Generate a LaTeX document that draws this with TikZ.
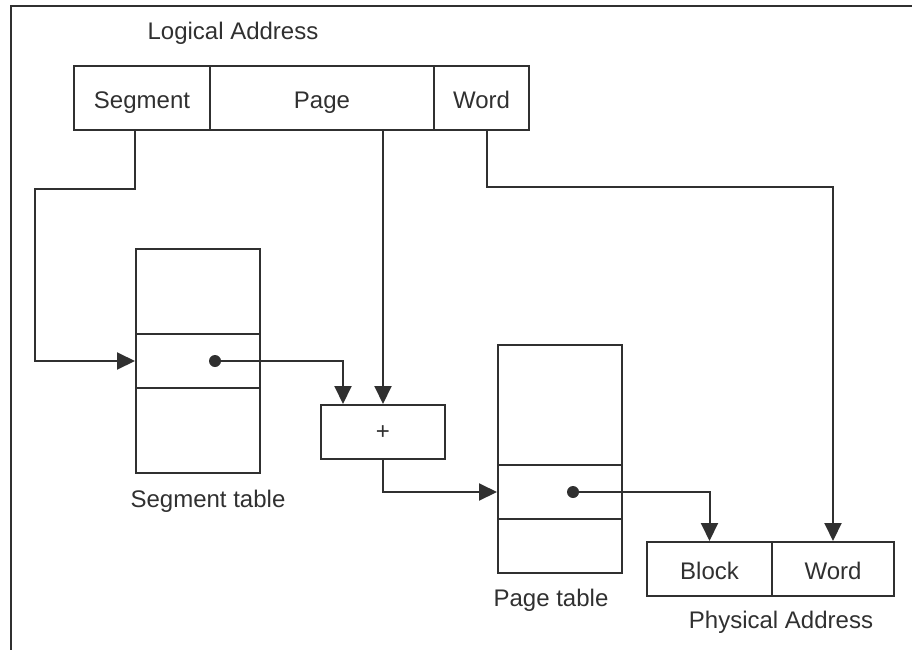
\documentclass[tikz,border=0pt]{standalone}
\usepackage{fontspec}
\setmainfont{Liberation Sans}
\usetikzlibrary{arrows.meta}
\definecolor{ink}{HTML}{303030}
\tikzset{
  cell/.style={draw=ink, line width=2pt, rectangle, inner sep=0pt, text=ink,
    text height=21pt, text depth=0pt,
    font=\fontsize{24}{28}\selectfont},
  lbl/.style={text=ink, inner sep=0pt, font=\fontsize{24}{28}\selectfont},
  arr/.style={draw=ink, line width=2pt, -{Triangle[length=18pt,width=17pt]}},
  dotmark/.style={fill=ink},
}
\begin{document}
\begin{tikzpicture}[x=1pt,y=-1pt]
\useasboundingbox (0,0) rectangle (912,650);
% frame
\draw[ink, line width=2.4pt] (912,6) -- (11,6) -- (11,650);
% logical address
\node[lbl] (la) at (233,33) {Logical Address};
\node[cell, minimum width=136pt, minimum height=64pt] (seg) at (142,98) {Segment};
\node[cell, minimum width=224pt, minimum height=64pt] (page) at (322,98) {Page};
\node[cell, minimum width=95pt, minimum height=64pt] (word) at (481.5,98) {Word};
% segment table
\node[cell, minimum width=124pt, minimum height=85pt] (sttop) at (198,291.5) {};
\node[cell, minimum width=124pt, minimum height=54pt] (stmid) at (198,361) {};
\node[cell, minimum width=124pt, minimum height=85pt] (stbot) at (198,430.5) {};
\node[lbl] (stl) at (208,501) {Segment table};
% adder
\node[cell, minimum width=124pt, minimum height=54pt, text height=14pt, text depth=0pt, font=\fontsize{24}{26}\selectfont] (adder) at (383,432) {+};
% page table
\node[cell, minimum width=124pt, minimum height=120pt] (pttop) at (560,405) {};
\node[cell, minimum width=124pt, minimum height=54pt] (ptmid) at (560,492) {};
\node[cell, minimum width=124pt, minimum height=54pt] (ptbot) at (560,546) {};
\node[lbl] (ptl) at (551,600) {Page table};
% physical address
\node[cell, minimum width=125pt, minimum height=54pt] (block) at (709.5,569) {Block};
\node[cell, minimum width=122pt, minimum height=54pt] (pword) at (833,569) {Word};
\node[lbl] (pal) at (781,622) {Physical Address};
% dots
\coordinate (sdot) at (215,361);
\coordinate (pdot) at (573,492);
\fill[dotmark] (sdot) circle (6pt);
\fill[dotmark] (pdot) circle (6pt);
% connectors
\coordinate (sturn) at (35,189);
\draw[arr] ([xshift=-7pt]seg.south) |- (sturn) |- (stmid.west);
\draw[arr] (sdot) -| ([xshift=-40pt]adder.north);
\draw[arr] (adder.north |- page.south) -- (adder.north);
\draw[arr] (adder.south) |- (ptmid.west);
\draw[arr] (pdot) -| (block.north);
\coordinate (wturn) at (833,187);
\draw[arr] ([xshift=5.5pt]word.south) |- (wturn) -- (pword.north);
\end{tikzpicture}
\end{document}
